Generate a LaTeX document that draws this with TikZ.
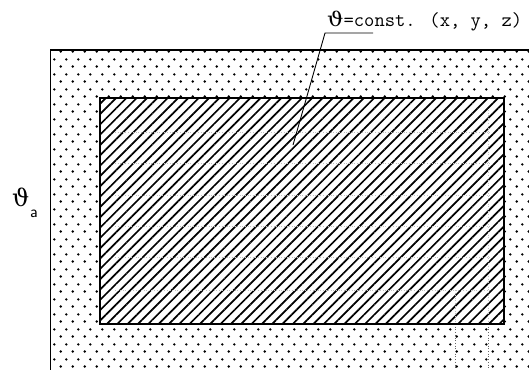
\documentclass[tikz,border=0pt]{standalone}
\usepackage{fontspec}
\newfontfamily\thetafont{DejaVu Serif}
\usetikzlibrary{patterns,patterns.meta}
\pgfdeclarepatternformonly{stagdots}{\pgfqpoint{0pt}{0pt}}{\pgfqpoint{11.5pt}{15pt}}{\pgfqpoint{11.5pt}{15pt}}{%
  \pgfpathcircle{\pgfqpoint{2.875pt}{3.75pt}}{1.4pt}%
  \pgfpathcircle{\pgfqpoint{8.625pt}{11.25pt}}{1.4pt}%
  \pgfusepath{fill}}
\tikzset{
  outerfill/.style={pattern=stagdots},
  outerline/.style={draw=black, line width=1.1pt},
  innerbox/.style={pattern={Lines[angle=45,distance=7.3pt,line width=1.7pt]}},
  innerline/.style={draw=black, line width=1.6pt},
  faint/.style={draw=black!25, line width=0.6pt, dotted},
  leader/.style={draw=black, line width=0.9pt},
  lbl/.style={inner sep=0pt, anchor=base west}
}
\begin{document}
\begin{tikzpicture}[x=1pt,y=1pt]
\useasboundingbox (0,0) rectangle (529,369);
\clip (0,0) rectangle (529,369);
\fill[white] (0,0) rectangle (529,369);
% outer region
\path[outerfill] (50.5,-5) rectangle (535,319);
\draw[outerline] (50.5,-5) -- (50.5,319) -- (535,319);
\fill[white] (100,45) rectangle (504,271);
\path[innerbox] (100,45) rectangle (504,271);
% faint grid lines
\foreach \yy in {237,206,174,143,112,79}
  \draw[faint] (115,\yy) -- (490,\yy);
\draw[faint] (488,259) -- (488,45);
\draw[faint] (455,79) -- (455,45);
\draw[black!60, line width=0.7pt, dotted] (488,45) -- (488,0);
\draw[black!60, line width=0.7pt, dotted] (455,45) -- (455,0);
\draw[innerline] (100,45) rectangle (504,271);
% labels
\node[lbl] (lab) at (327,342) {\fontsize{20}{24}\selectfont{\thetafont\scalebox{1.15}[1]{ϑ}}\ttfamily=const. (x, y, z)};
\coordinate (u1) at (325,336);
\coordinate (u2) at (373,336);
\coordinate (tip) at (293,224);
\draw[leader] (u2) -- (u1) -- (tip);
\node[lbl] (th) at (12,162) {\fontsize{24}{28}\selectfont\thetafont ϑ};
\node[lbl] (sub) at (30,151) {\fontsize{17}{20}\selectfont\sffamily a};
\end{tikzpicture}
\end{document}
